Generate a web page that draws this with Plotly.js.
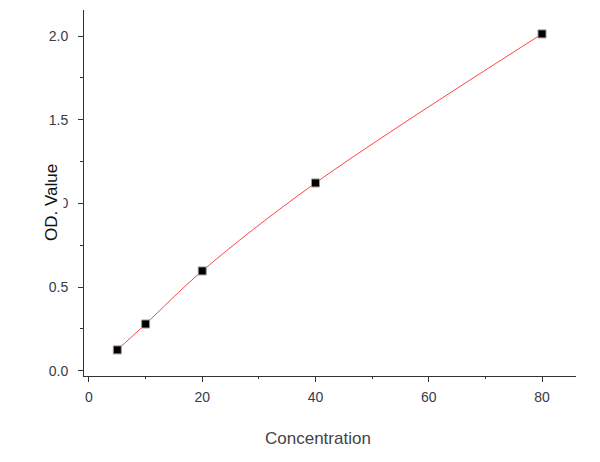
<!DOCTYPE html>
<html>
<head>
<meta charset="utf-8">
<script src="https://cdn.plot.ly/plotly-3.0.1.min.js"></script>
<style>html,body{margin:0;padding:0;background:#fff;}#chart{width:600px;height:462px;}</style>
</head>
<body>
<div id="chart"></div>
<script>
var concentration = [5, 10, 20, 40, 80];
var odValue = [0.124, 0.279, 0.596, 1.122, 2.013];
var xTickValues = [0, 20, 40, 60, 80];
var yTickValues = [0.0, 0.5, 1.0, 1.5, 2.0];
var yTickLabels = ['0.0', '0.5', '1.0', '1.5', '2.0'];
var xTitle = 'Concentration';
var yTitle = 'OD. Value';

var fitLine = {
  x: concentration, y: odValue, type: 'scatter', mode: 'lines',
  line: {color: '#ff3030', width: 0.9, shape: 'spline'},
  hoverinfo: 'skip', showlegend: false
};
var points = {
  x: concentration, y: odValue, type: 'scatter', mode: 'markers',
  marker: {symbol: 'square', size: 8, color: '#000', line: {color: '#9a9a9a', width: 1}},
  showlegend: false
};

var fam = 'Arial, "Liberation Sans", sans-serif';
var tickFont = {family: fam, size: 14, color: '#3a3a4a'};
var layout = {
  width: 600, height: 462,
  margin: {l: 84, r: 24, t: 10, b: 86},
  paper_bgcolor: '#fff', plot_bgcolor: '#fff',
  showlegend: false,
  xaxis: {
    range: [-0.88, 86.0], tickvals: xTickValues, ticks: 'outside', ticklen: 5, tickwidth: 1, tickcolor: '#333',
    showline: true, linecolor: '#333', linewidth: 1, showgrid: false, zeroline: false,
    tickfont: tickFont, ticklabelstandoff: 3,
    minor: {tickvals: [10, 30, 50, 70], ticks: 'outside', ticklen: 2, tickcolor: '#333', showgrid: false}
  },
  yaxis: {
    range: [-0.032, 2.156], tickvals: yTickValues, ticktext: yTickLabels, ticks: 'outside', ticklen: 5, tickwidth: 1, tickcolor: '#333',
    showline: true, linecolor: '#333', linewidth: 1, showgrid: false, zeroline: false,
    tickfont: tickFont, ticklabelstandoff: 7,
    minor: {tickvals: [0.25, 0.75, 1.25, 1.75], ticks: 'outside', ticklen: 3, tickcolor: '#333', showgrid: false}
  },
  annotations: [
    {text: xTitle, xref: 'paper', yref: 'paper', x: 0.4756, y: -0.172, xanchor: 'center', yanchor: 'middle',
     showarrow: false, font: {family: fam, size: 17, color: '#444'}},
    {text: yTitle, xref: 'paper', yref: 'paper', x: -0.065, y: 0.4727, xanchor: 'center', yanchor: 'middle',
     textangle: -90, showarrow: false, bgcolor: '#fff', borderpad: 2, font: {family: fam, size: 17, color: '#111'}}
  ]
};
Plotly.newPlot('chart', [fitLine, points], layout, {displayModeBar: false, staticPlot: true});
</script>
</body>
</html>
